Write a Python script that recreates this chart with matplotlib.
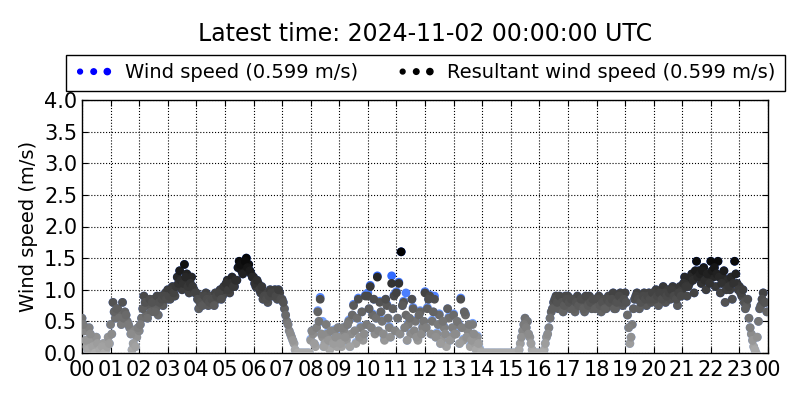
import matplotlib
matplotlib.use("Agg")
import matplotlib.pyplot as plt
import numpy as np
from matplotlib.colors import LinearSegmentedColormap
from matplotlib.legend_handler import HandlerPathCollection

TITLE = "Latest time: 2024-11-02 00:00:00 UTC"
HOUR_LABELS = ["%02d" % h for h in range(24)] + ["00"]
Y_TICKS = [0.0, 0.5, 1.0, 1.5, 2.0, 2.5, 3.0, 3.5, 4.0]

# resultant wind speed, 5-minute samples on the :00/:05/... marks, one row per hour
resultant = [
    0.55, 0.35, 0.10, 0.40, 0.20, 0.05, 0.25, 0.10, 0.00, 0.15, 0.05, 0.25,
    0.45, 0.80, 0.55, 0.70, 0.60, 0.80, 0.65, 0.50, 0.40, 0.05, 0.35, 0.25,
    0.35, 0.55, 0.90, 0.60, 0.75, 0.65, 0.85, 0.70, 0.60, 0.90, 0.75, 0.95,
    1.00, 0.85, 1.05, 0.90, 1.20, 1.30, 1.00, 1.40, 1.25, 0.95, 1.20, 1.00,
    0.95, 0.70, 0.90, 0.80, 0.95, 0.75, 0.90, 0.80, 0.95, 0.85, 1.00, 0.90,
    1.00, 1.15, 0.95, 1.20, 1.05, 1.15, 1.45, 1.30, 1.35, 1.50, 1.40, 1.25,
    1.20, 1.05, 1.10, 0.95, 0.85, 0.95, 0.80, 1.00, 0.90, 1.00, 0.85, 0.95,
    0.85, 0.70, 0.50, 0.35, 0.25, 0.15, 0.00, 0.00, 0.00, 0.00, 0.00, 0.00,
    0.20, 0.30, 0.10, 0.65, 0.85, 0.25, 0.15, 0.30, 0.05, 0.20, 0.35, 0.10,
    0.25, 0.10, 0.35, 0.20, 0.50, 0.30, 0.75, 0.15, 0.85, 0.40, 0.20, 0.90,
    0.90, 1.05, 0.60, 0.30, 1.20, 0.80, 0.50, 0.20, 0.75, 0.40, 1.10, 0.90,
    0.95, 1.10, 1.60, 0.80, 0.60, 0.45, 0.30, 0.70, 0.50, 0.20, 0.65, 0.40,
    0.95, 0.70, 0.90, 0.50, 0.85, 0.30, 0.60, 0.20, 0.40, 0.10, 0.55, 0.25,
    0.60, 0.30, 0.45, 0.85, 0.20, 0.60, 0.35, 0.10, 0.45, 0.15, 0.25, 0.05,
    0.00, 0.00, 0.00, 0.00, 0.00, 0.00, 0.00, 0.00, 0.00, 0.00, 0.00, 0.00,
    0.00, 0.00, 0.00, 0.00, 0.15, 0.35, 0.55, 0.50, 0.25, 0.05, 0.00, 0.00,
    0.00, 0.00, 0.05, 0.25, 0.40, 0.65, 0.80, 0.90, 0.70, 0.85, 0.65, 0.90,
    0.90, 0.70, 0.85, 0.65, 0.90, 0.75, 0.85, 0.65, 0.80, 0.90, 0.70, 0.85,
    0.75, 0.90, 0.65, 0.85, 0.70, 0.90, 0.75, 0.95, 0.70, 0.85, 0.95, 0.75,
    0.95, 0.60, 0.15, 0.45, 0.85, 0.95, 0.70, 0.85, 0.95, 0.75, 0.95, 0.80,
    0.90, 1.00, 0.75, 0.95, 1.05, 0.80, 1.00, 0.85, 1.05, 0.95, 0.75, 1.05,
    1.00, 1.20, 0.90, 1.10, 1.25, 0.95, 1.45, 1.30, 1.10, 1.35, 1.00, 1.20,
    1.45, 1.20, 1.05, 1.45, 0.95, 1.20, 0.80, 1.15, 1.00, 0.85, 1.45, 1.10,
    1.05, 0.90, 0.80, 0.75, 0.55, 0.30, 0.10, 0.00, 0.50, 0.75, 0.95, 0.80,
]

# resultant wind speed on the in-between marks (:02.5, :07.5, ...)
resultant_mid = [
    0.45, 0.20, 0.05, 0.30, 0.10, 0.00, 0.15, 0.05, 0.10, 0.00, 0.10, 0.15,
    0.30, 0.65, 0.70, 0.55, 0.45, 0.55, 0.60, 0.45, 0.30, 0.15, 0.10, 0.40,
    0.45, 0.70, 0.80, 0.55, 0.85, 0.80, 0.65, 0.90, 0.80, 0.85, 0.90, 0.85,
    0.90, 1.00, 0.95, 1.05, 1.10, 1.15, 1.10, 1.20, 1.05, 1.10, 1.05, 0.95,
    0.85, 0.80, 0.75, 0.90, 0.85, 0.80, 0.85, 0.75, 0.90, 0.95, 0.85, 1.05,
    1.10, 1.00, 1.10, 1.05, 1.15, 1.35, 1.40, 1.25, 1.45, 1.35, 1.30, 1.20,
    1.10, 1.15, 1.00, 1.05, 0.90, 0.85, 0.90, 0.95, 0.95, 0.90, 1.00, 0.85,
    0.80, 0.60, 0.45, 0.30, 0.20, 0.05, 0.00, 0.00, 0.00, 0.00, 0.00, 0.00,
    0.35, 0.15, 0.40, 0.50, 0.30, 0.10, 0.45, 0.20, 0.35, 0.15, 0.25, 0.40,
    0.15, 0.40, 0.25, 0.45, 0.10, 0.60, 0.35, 0.55, 0.25, 0.65, 0.30, 0.45,
    0.70, 0.40, 0.85, 0.55, 0.35, 0.65, 0.30, 0.85, 0.55, 0.25, 0.70, 0.35,
    0.55, 0.30, 0.75, 0.40, 0.20, 0.55, 0.85, 0.35, 0.25, 0.60, 0.30, 0.50,
    0.40, 0.85, 0.30, 0.65, 0.25, 0.45, 0.15, 0.50, 0.30, 0.70, 0.20, 0.40,
    0.30, 0.50, 0.15, 0.40, 0.65, 0.25, 0.45, 0.20, 0.30, 0.05, 0.15, 0.00,
    0.00, 0.00, 0.00, 0.00, 0.00, 0.00, 0.00, 0.00, 0.00, 0.00, 0.00, 0.00,
    0.00, 0.00, 0.00, 0.05, 0.25, 0.45, 0.40, 0.30, 0.15, 0.00, 0.00, 0.00,
    0.00, 0.00, 0.15, 0.30, 0.55, 0.70, 0.85, 0.80, 0.90, 0.80, 0.75, 0.85,
    0.80, 0.85, 0.70, 0.80, 0.75, 0.85, 0.70, 0.90, 0.75, 0.80, 0.85, 0.70,
    0.85, 0.75, 0.80, 0.70, 0.85, 0.80, 0.85, 0.70, 0.80, 0.90, 0.80, 0.85,
    0.80, 0.40, 0.25, 0.70, 0.90, 0.85, 0.80, 0.90, 0.85, 0.90, 0.85, 0.95,
    0.85, 0.90, 0.95, 0.85, 0.95, 0.90, 0.95, 1.00, 0.90, 0.85, 0.95, 0.90,
    1.10, 1.05, 1.05, 1.20, 1.15, 1.30, 1.20, 1.25, 1.30, 1.15, 1.25, 1.10,
    1.30, 1.35, 1.25, 1.20, 1.10, 1.30, 1.00, 1.05, 1.20, 1.10, 1.25, 1.00,
    0.95, 1.00, 0.70, 0.85, 0.40, 0.20, 0.05, 0.25, 0.70, 0.85, 0.80, 0.65,
]

# scalar wind speed for 08-14 UTC (5-minute marks), where it exceeds the resultant
wind_calm = [
    0.22, 0.32, 0.12, 0.67, 0.88, 0.50, 0.17, 0.32, 0.07, 0.22, 0.37, 0.12,
    0.27, 0.12, 0.37, 0.22, 0.52, 0.55, 0.77, 0.17, 0.87, 0.42, 0.22, 0.92,
    0.95, 1.07, 0.62, 0.32, 1.22, 0.82, 0.52, 0.22, 0.77, 0.42, 1.22, 0.92,
    0.97, 1.12, 1.60, 0.82, 0.95, 0.47, 0.32, 0.72, 0.52, 0.22, 0.67, 0.42,
    0.97, 0.72, 0.92, 0.52, 0.90, 0.32, 0.62, 0.22, 0.42, 0.12, 0.57, 0.27,
    0.62, 0.32, 0.47, 0.87, 0.22, 0.62, 0.37, 0.12, 0.47, 0.17, 0.27, 0.07,
]

wind_speed = resultant[:96] + wind_calm + resultant[168:] + resultant_mid
res_all = resultant + resultant_mid
step = 24.0 / len(resultant)
hours = np.arange(len(resultant)) * step
hours_all = np.concatenate([hours, hours + step / 2])

grey_map = LinearSegmentedColormap.from_list("grey", ["#adadad", "#000000"])
blue_map = LinearSegmentedColormap.from_list("blue", ["#a0c4ff", "#1050ff"])

plt.rcParams["font.family"] = "DejaVu Sans"
fig = plt.figure(figsize=(8, 4), dpi=100)
ax = fig.add_axes([0.1025, 0.1175, 0.8575, 0.6325])

ax.scatter(hours_all, wind_speed, c=wind_speed, cmap=blue_map, vmin=0, vmax=1.6,
           s=28, edgecolors="face", zorder=2)
ax.scatter(hours_all, res_all, c=res_all, cmap=grey_map, vmin=0, vmax=1.55,
           s=28, edgecolors="face", zorder=3)

# proxies for the legend
h1 = ax.scatter([], [], s=16, c="blue", edgecolors="face")
h2 = ax.scatter([], [], s=16, c="black", edgecolors="face")

ax.set_xlim(0, 24)
ax.set_ylim(0, 4.0)
ax.set_xticks(range(25))
ax.set_xticklabels(HOUR_LABELS)
ax.set_yticks(Y_TICKS)
ax.set_yticklabels(["%.1f" % t for t in Y_TICKS])
ax.tick_params(direction="in", top=True, right=True, labelsize=15, length=4)
ax.tick_params(axis="x", pad=5)
ax.grid(True, color="black", linestyle=":", linewidth=0.8)
ax.set_axisbelow(True)
ax.set_ylabel("Wind speed (m/s)", fontsize=14)
for s in ax.spines.values():
    s.set_linewidth(1.0)

leg = ax.legend([h1, h2], ["Wind speed (0.599 m/s)", "Resultant wind speed (0.599 m/s)"],
                loc="lower center", bbox_to_anchor=(0.5, 1.035), ncol=2,
                scatterpoints=3, scatteryoffsets=[0.5], fontsize=14,
                fancybox=False, framealpha=1, edgecolor="black",
                borderpad=0.45, handletextpad=0.6, columnspacing=2.0,
                borderaxespad=0.0,
                handler_map={type(h1): HandlerPathCollection(sizes=[12, 16, 20])})
leg.get_frame().set_linewidth(1.0)

fig.text(0.53125, 0.915, TITLE, ha="center", va="center", fontsize=17)

fig.savefig("out.png", dpi=100)
